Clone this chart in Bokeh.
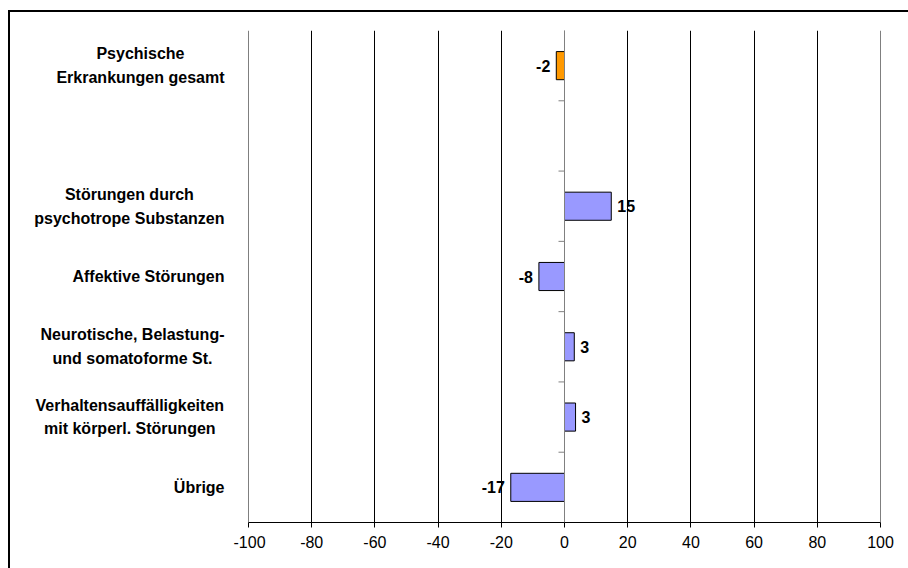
from bokeh.plotting import figure
from bokeh.layouts import row
from bokeh.models import Range1d, FixedTicker, ColumnDataSource, Span
from bokeh.embed import file_html
from bokeh.resources import INLINE
from bokeh.core.properties import value

# ---- data ----
categories = [
    "Psychische\nErkrankungen gesamt",
    "",
    "Störungen durch\npsychotrope Substanzen",
    "Affektive Störungen",
    "Neurotische, Belastung-\nund somatoforme St.",
    "Verhaltensauffälligkeiten\nmit körperl. Störungen",
    "Übrige",
]
values = [-2.6, None, 14.8, -8.1, 3.1, 3.5, -17.0]
value_labels = ["-2", "", "15", "-8", "3", "3", "-17"]
bar_colors = ["#FF9900", None, "#9999FF", "#9999FF", "#9999FF", "#9999FF", "#9999FF"]
x_ticks = [-100, -80, -60, -40, -20, 0, 20, 40, 60, 80, 100]

# ---- layout constants ----
H = 556
LW = 223            # width of the label panel
W = 675             # width of the chart panel
BL, BR, BT, BB = 15, 28, 18, 46
LABEL_GAP = 24      # gap between label block and plot frame
FONT = "Liberation Sans"
CAT_SIZE = 16
n = len(categories)

# approximate advance widths (per 1000 em) of Liberation Sans Bold, for centring lines
BOLD_W = {'A': 722, 'B': 722, 'E': 667, 'N': 722, 'P': 667, 'S': 667, 'V': 667, 'Ü': 722,
          'a': 556, 'b': 611, 'c': 556, 'd': 611, 'e': 556, 'f': 333, 'g': 611, 'h': 611,
          'i': 278, 'k': 556, 'l': 278, 'm': 889, 'n': 611, 'o': 611, 'p': 611, 'r': 389,
          's': 556, 't': 333, 'u': 611, 'v': 556, 'y': 556, 'z': 500, 'ä': 556, 'ö': 611,
          ' ': 278, ',': 278, '-': 333, '.': 278}


def text_width(s, size):
    return sum(BOLD_W.get(ch, 600) for ch in s) * size / 1000.0


y_range = Range1d(n - 0.5, -0.5)

# ---- label panel ----
lab_idx = [i for i, c in enumerate(categories) if c]
lab_src = ColumnDataSource(dict(
    y=lab_idx,
    t=[categories[i] for i in lab_idx],
    x=[LW + BL - LABEL_GAP - max(text_width(l, CAT_SIZE) for l in categories[i].split("\n")) / 2
       for i in lab_idx],
))
pl = figure(width=LW, height=H, output_backend="svg", toolbar_location=None,
            x_range=Range1d(0, LW), y_range=y_range,
            x_axis_type=None, y_axis_type=None,
            min_border_left=0, min_border_right=0,
            min_border_top=BT, min_border_bottom=BB)
pl.outline_line_color = None
pl.grid.grid_line_color = None
pl.background_fill_color = "white"
pl.border_fill_color = "white"
pl.text(x="x", y="y", text="t", source=lab_src, text_align="center",
        text_baseline="middle", text_font=value(FONT), text_font_style="bold",
        text_font_size=f"{CAT_SIZE}px", text_color="#000000", text_line_height=1.4)

# ---- chart panel ----
idx = [i for i, v in enumerate(values) if v is not None]
src = ColumnDataSource(dict(
    y=idx,
    v=[values[i] for i in idx],
    lab=[value_labels[i] for i in idx],
    col=[bar_colors[i] for i in idx],
    off=[6 if values[i] >= 0 else -6 for i in idx],
    al=["left" if values[i] >= 0 else "right" for i in idx],
))

p = figure(width=W, height=H, output_backend="svg", toolbar_location=None,
           x_range=Range1d(x_ticks[0], x_ticks[-1]), y_range=y_range,
           min_border_left=BL, min_border_right=BR,
           min_border_top=BT, min_border_bottom=BB)
p.outline_line_color = None
p.background_fill_color = "white"
p.border_fill_color = "white"

# grid
p.xgrid.ticker = FixedTicker(ticks=x_ticks)
p.xgrid.grid_line_color = "#000000"
p.xgrid.grid_line_width = 1
p.ygrid.grid_line_color = None
for t in (x_ticks[0], x_ticks[-1]):
    p.add_layout(Span(location=t, dimension="height", line_color="#000000", line_width=1))

# x axis
p.xaxis.ticker = FixedTicker(ticks=x_ticks)
p.xaxis.major_label_overrides = {t: str(t) for t in x_ticks}
p.xaxis.axis_line_color = "#000000"
p.xaxis.major_tick_line_color = "#000000"
p.xaxis.major_tick_out = 5
p.xaxis.major_tick_in = 0
p.xaxis.minor_tick_line_color = None
p.xaxis.major_label_text_font = FONT
p.xaxis.major_label_text_font_size = "16px"
p.xaxis.major_label_text_color = "#000000"
p.xaxis.major_label_standoff = 8

p.yaxis.visible = False

# bars
p.hbar(y="y", left=0, right="v", height=0.4, source=src,
       fill_color="col", line_color="#000000", line_width=1)

# zero axis line with ticks at category boundaries
p.add_layout(Span(location=0, dimension="height", line_color="#808080", line_width=1))
px_per_unit = (W - BL - BR) / (x_ticks[-1] - x_ticks[0])
bounds = [i + 0.5 for i in range(n - 1)]
p.segment(x0=[0] * len(bounds), x1=[-6 / px_per_unit] * len(bounds),
          y0=bounds, y1=bounds, line_color="#808080", line_width=1)

# value labels
p.text(x="v", y="y", text="lab", source=src, x_offset="off", text_align="al",
       text_baseline="middle", text_font=value(FONT), text_font_style="bold",
       text_font_size="16px", text_color="#000000")

layout = row(pl, p, spacing=0)
layout.styles = {"margin-left": "8px", "margin-top": "10px",
                 "border-left": "2px solid black", "border-top": "2px solid black"}

open("out.html", "w").write(file_html(layout, INLINE))
